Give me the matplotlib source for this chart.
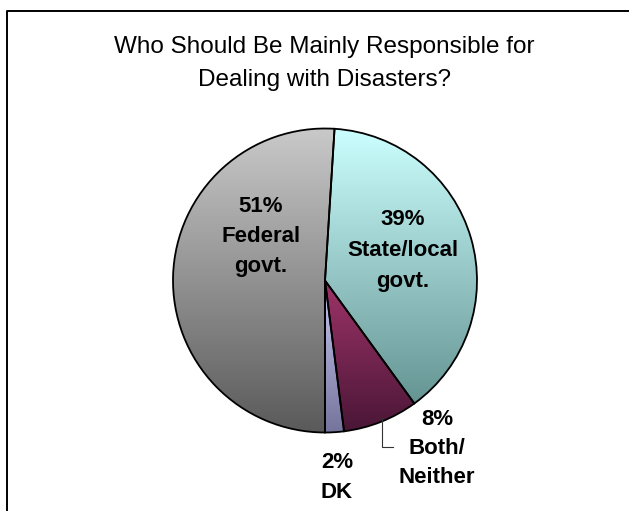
import numpy as np
import matplotlib
matplotlib.use("Agg")
import matplotlib.pyplot as plt
from matplotlib.colors import LinearSegmentedColormap
from matplotlib.lines import Line2D

plt.rcParams['font.family'] = ['Liberation Sans', 'DejaVu Sans']

# ---- data ----
title_lines = ["Who Should Be Mainly Responsible for", "Dealing with Disasters?"]
categories = ["Federal\ngovt.", "State/local\ngovt.", "Both/\nNeither", "DK"]
values = [51, 39, 8, 2]
top_colors = ["#c9c9c9", "#ccffff", "#9e3469", "#c8c8f2"]
bottom_colors = ["#5a5a5a", "#659593", "#4a1636", "#74749c"]

W, H = 629, 511
fig = plt.figure(figsize=(W / 100, H / 100), dpi=100)
ax = fig.add_axes([0, 0, 1, 1])

cx, cy, R = 325, H - 280.5, 152
wedges, _ = ax.pie(values, startangle=270, counterclock=False, center=(cx, cy),
                   radius=R, colors=top_colors,
                   wedgeprops=dict(edgecolor="black", linewidth=1.3))

# vertical gradient fill inside each wedge
grad = np.linspace(1, 0, 256).reshape(-1, 1)
for w, ct, cb in zip(wedges, top_colors, bottom_colors):
    th = np.radians(np.linspace(w.theta1, w.theta2, 200))
    ys = np.concatenate([[cy], cy + R * np.sin(th)])
    xs = np.concatenate([[cx], cx + R * np.cos(th)])
    cmap = LinearSegmentedColormap.from_list("g", [cb, ct])
    im = ax.imshow(grad, cmap=cmap, aspect="auto", origin="upper",
                   extent=[xs.min(), xs.max(), ys.min(), ys.max()], zorder=1)
    im.set_clip_path(w)
    w.set_facecolor("none")
    w.set_zorder(2)

ax.set_xlim(0, W)
ax.set_ylim(0, H)
ax.set_aspect("auto")
ax.axis("off")

# frame (left and top visible)
ax.add_line(Line2D([7, 7, W], [0, H - 11, H - 11], color="black", lw=1.4,
                   clip_on=False, zorder=5))

# title
for i, (line, base) in enumerate(zip(title_lines, [53, 86])):
    ax.text(324, H - base, line, ha="center", va="baseline", fontsize=17.5,
            color="black")

# slice labels
label_pos = [(261, 212, 30), (403, 225, 31), (437, 425, 29), (337, 468, 30)]
for cat, v, (x, b, sp) in zip(categories, values, label_pos):
    lines = [f"{v}%"] + cat.split("\n")
    for j, ln in enumerate(lines):
        ax.text(x, H - (b + j * sp), ln, ha="center", va="baseline",
                fontsize=16, fontweight="bold", color="black", zorder=6)

# leader line for Both/Neither
ax.add_line(Line2D([382, 382, 393], [H - 418, H - 447, H - 447],
                   color="#333333", lw=0.8, zorder=6))

fig.savefig("out.png", dpi=100)
